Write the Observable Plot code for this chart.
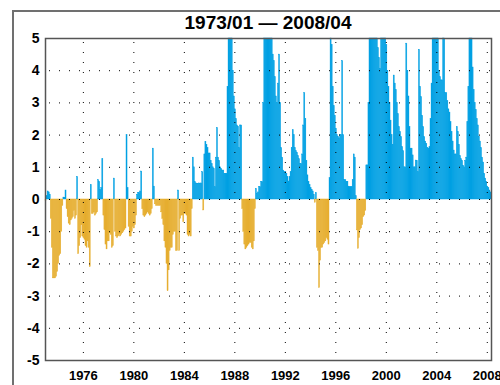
<!DOCTYPE html>
<html>
<head>
<meta charset="utf-8">
<script src="https://cdn.jsdelivr.net/npm/d3@7"></script>
<script src="https://cdn.jsdelivr.net/npm/@observablehq/plot@0.6"></script>
<style>
  html, body { margin: 0; padding: 0; background: #fff; }
  #wrap { position: relative; width: 500px; height: 385px; overflow: hidden; background: #fff; }
  #outer { position: absolute; left: 12px; top: 10px; width: 520px; height: 420px; border: 2px solid #707070; box-sizing: border-box; }
  #title { position: absolute; left: 45px; width: 446px; top: 12px; text-align: center; z-index: 2;
           font-family: "Liberation Sans", Arial, sans-serif; font-weight: bold; font-size: 19px; color: #000; line-height: normal; }
  #chart { position: absolute; left: 0; top: 18px; z-index: 1; }
  #chart svg g[aria-label^="y-axis"], #chart svg g[aria-label^="y-axis"] text { font-size: 14px !important; }
  #chart svg g[aria-label^="x-axis"], #chart svg g[aria-label^="x-axis"] text { font-size: 13px !important; }
</style>
</head>
<body>
<div id="wrap">
  <div id="outer"></div>
  <div id="chart"></div>
  <div id="title"></div>
</div>
<script>
// ---- data ----
const titleText = "1973/01 \u2014 2008/04";
const startYear = 1973;
const endYear = 2008 + 4 / 12;
const xTicks = [1976, 1980, 1984, 1988, 1992, 1996, 2000, 2004, 2008];
const yTicks = [-5, -4, -3, -2, -1, 0, 1, 2, 3, 4, 5];
const gridY = [-4, -3, -2, -1, 0, 1, 2, 3, 4];

// monthly values (values above 5 are cut by the frame)
const values1970s = [
  -0.05, 0.1, 0.25, 0.22, 0.15, -0.6, -1.5, -2.45, -2.45, -2.45, -2.4, -2.25,   // 1973
  -2.0, -1.75, -1.7, -1.0, -0.2, 0.06, 0.05, 0.28, -0.3, -0.55, -0.75, -0.8,    // 1974
  -0.65, -0.6, -0.55, -0.35, -0.6, -0.5, 0.7, -1.7, -1.45, -1.2, -0.8, -1.15,   // 1975
  -1.2, -1.25, -1.45, -1.5, -1.3, -1.5, -2.1, 0.45, -0.45, -0.45, -0.4, -0.5,   // 1976
  -0.45, -0.4, 0.6, 0.55, 0.3, 0.35, 1.25, -0.5, -0.95, -1.4, -1.55, -1.3,      // 1977
  -1.3, -1.05, -1.1, -1.5, -1.45, 0.65, -1.0, -1.15, -1.2, -1.15, -1.1, -1.15,  // 1978
  -1.1, -1.05, -1.0, -0.95, -0.9, 2.0, 0.35, -0.85, -1.15, -1.15, -1.0, -0.85   // 1979
];
const values1980s = [
  -0.9, -0.8, -0.5, 0.15, 0.2, 0.2, 0.25, 0.87, -0.3, -0.5, -0.55, -0.5,        // 1980
  -0.45, -0.4, -0.45, -0.5, -0.45, -0.3, 1.58, 0.4, -0.15, -0.2, -0.2, -0.2,    // 1981
  -0.2, -0.2, -0.4, -0.6, -0.8, -1.3, -1.5, -2.0, -2.85, -2.2, -1.6, -1.5,      // 1982
  -1.5, -1.1, -1.0, -1.0, -1.6, -1.6, 0.28, -1.6, -0.6, -0.5, -0.5, -0.7,       // 1983
  -0.45, -0.45, -0.5, -1.1, -1.15, -1.1, -1.15, -0.3, 1.3, 1.0, 0.54, 0.5,      // 1984
  0.49, 0.49, 0.5, 0.49, 0.5, 0.85, -0.34, 1.4, 1.79, 1.7, 1.6, 1.43,           // 1985
  1.43, 1.2, 1.1, 1.0, 0.95, 0.38, 1.3, 2.22, 1.3, 1.2, 1.0, 0.95,              // 1986
  0.9, 0.9, 0.8, 0.8, 0.8, 3.5, 5.5, 5.5, 5.5, 5.0, 4.0, 3.2,                   // 1987
  2.8, 2.5, 2.3, 2.26, 1.6, 2.3, 2.3, -0.3, -1.0, -1.4, -1.55, -1.5,            // 1988
  -1.45, -1.4, -1.35, -1.35, -1.5, -1.55, -1.3, -0.3, 0.33, 0.18, 0.22, 0.38    // 1989
];
const values1990s = [
  0.38, 0.54, 0.54, 3.0, 5.5, 5.5, 5.5, 5.5, 5.5, 5.5, 5.5, 5.5,                // 1990
  4.5, 4.3, 3.8, 3.2, 3.0, 3.6, 4.5, 3.0, 1.6, 1.3, 0.9, 0.85,                  // 1991
  0.85, 0.8, 0.7, 0.56, 0.7, 0.85, 1.6, 2.15, 2.0, 1.6, 1.5, 1.45,              // 1992
  1.35, 1.25, 1.1, 1.1, 1.4, 2.3, 3.3, 2.5, 1.2, 0.75, 0.55, 0.45,              // 1993
  0.35, 0.3, 0.25, 0.15, -0.1, 0.2, -1.5, -1.6, -2.75, -1.9, -1.5, -1.5,        // 1994
  -1.4, -1.35, -1.3, -1.2, -1.25, -1.4, 0.66, 5.5, 4.8, 3.5, 2.9, 2.6,          // 1995
  2.2, 2.0, 1.95, 1.9, 2.0, 2.0, 4.3, 2.0, 0.6, 0.6, 0.55, 0.55,                // 1996
  0.4, 0.38, 0.38, 0.38, 0.6, 1.4, 1.3, 0.1, -0.96, -1.53, -1.2, -0.95,         // 1997
  -0.9, -0.8, -0.55, -0.5, -0.35, 1.06, 1.06, 3.0, 5.5, 5.5, 5.5, 5.5,          // 1998
  5.5, 5.5, 5.5, 5.3, 4.7, 4.4, 4.06, 5.5, 5.5, 5.5, 5.5, 5.5                   // 1999
];
const values2000s = [
  4.8, 4.0, 3.5, 3.0, 2.45, 2.0, 1.7, 3.85, 3.6, 3.4, 3.0, 2.65,                // 2000
  2.25, 2.1, 1.94, 1.63, 1.5, 1.0, 1.0, 4.84, 4.0, 3.2, 2.25, 1.58,             // 2001
  1.58, 1.37, 1.0, 1.0, 1.21, 1.2, 0.85, 4.65, 3.5, 3.18, 2.6, 2.25,            // 2002
  1.94, 1.8, 1.73, 1.6, 1.58, 1.63, 2.5, 3.6, 5.5, 5.5, 5.5, 5.5,               // 2003
  5.5, 5.0, 4.0, 3.8, 3.7, 3.7, 5.5, 5.5, 3.3, 3.3, 3.05, 2.8,                  // 2004
  2.7, 2.4, 2.1, 1.8, 1.52, 1.4, 1.4, 2.25, 2.1, 1.7, 1.35, 1.25,               // 2005
  1.2, 1.05, 1.0, 1.2, 1.3, 2.4, 3.5, 5.5, 5.5, 5.0, 4.1, 3.4,                  // 2006
  3.0, 2.78, 2.5, 2.3, 1.95, 1.8, 1.6, 1.3, 1.15, 0.8, 0.65, 0.55,              // 2007
  0.4, 0.35, 0.28, 0.22                                                         // 2008
];

const blue = "#00a0e3";
const gold = "#e6ae30";

// ---- build ----
const values = [...values1970s, ...values1980s, ...values1990s, ...values2000s];
const rows = values.map((v, i) => ({ t0: startYear + i / 12, t1: startYear + (i + 1) / 12, v }));

document.getElementById("title").textContent = titleText;

const chart = Plot.plot({
  width: 500,
  height: 367,
  marginTop: 20,
  marginBottom: 25,
  marginLeft: 45,
  marginRight: 9,
  style: { fontFamily: "'Liberation Sans', Arial, sans-serif", fontSize: "12px", fontWeight: "bold", color: "#000", background: "transparent", overflow: "visible" },
  x: { domain: [startYear, endYear], ticks: xTicks, tickFormat: d => String(d), tickSize: 0, tickPadding: 10, label: null },
  y: { domain: [-5, 5], ticks: yTicks, tickFormat: d => String(d), tickSize: 0, tickPadding: 6, label: null },
  marks: [
    Plot.rect(rows.filter(d => d.v > 0), { x1: "t0", x2: "t1", y1: 0, y2: d => Math.min(d.v, 5), fill: blue, stroke: blue, strokeWidth: 0.4 }),
    Plot.rect(rows.filter(d => d.v < 0), { x1: "t0", x2: "t1", y1: 0, y2: d => Math.max(d.v, -5), fill: gold, stroke: gold, strokeWidth: 0.4 }),
    Plot.ruleY(gridY, { stroke: "#000", strokeWidth: 1, strokeDasharray: "1,9", strokeDashoffset: -4 }),
    Plot.ruleX(xTicks, { stroke: "#000", strokeWidth: 1, strokeDasharray: "1,9", strokeDashoffset: -4 }),
    Plot.frame({ stroke: "#555", strokeWidth: 1.5 })
  ]
});
document.getElementById("chart").appendChild(chart);
</script>
</body>
</html>
